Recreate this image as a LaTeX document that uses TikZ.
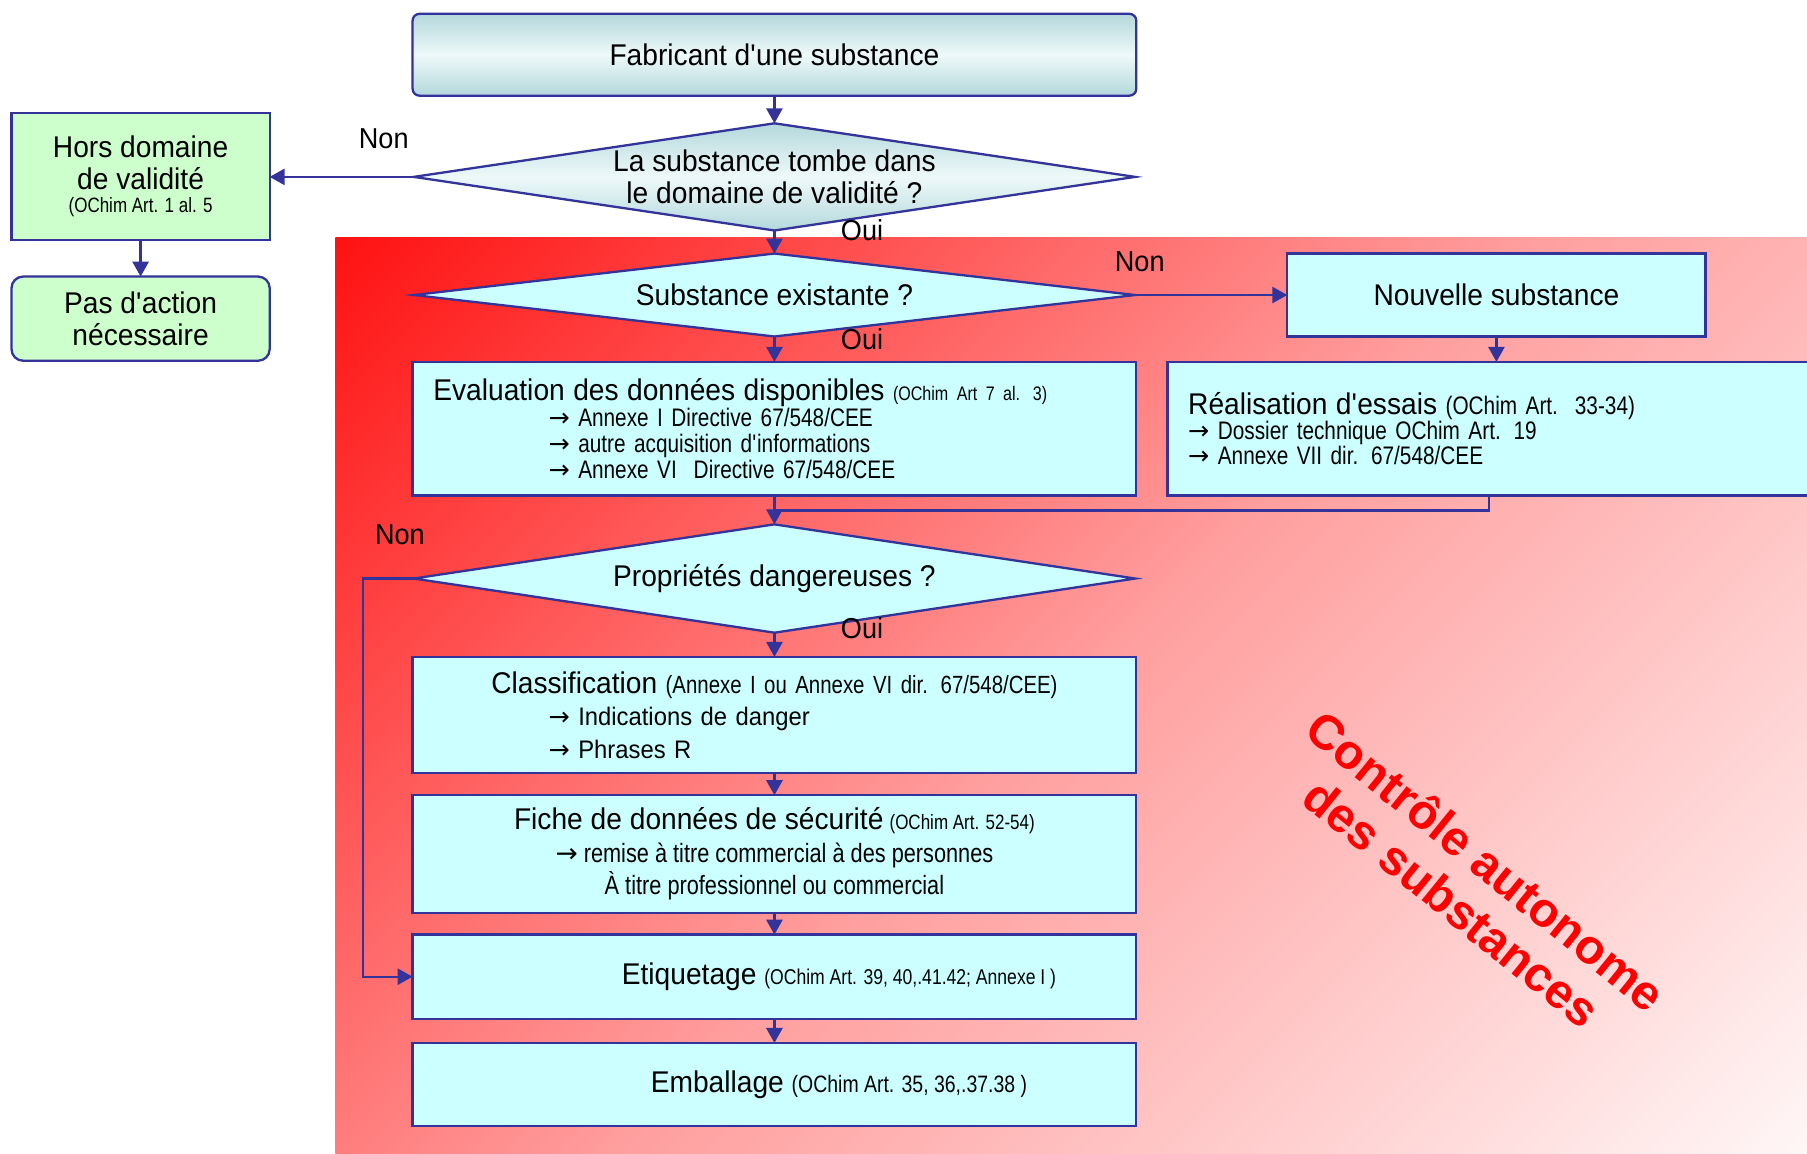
\documentclass[tikz,border=0pt]{standalone}
\usepackage{fontspec}
\setmainfont{Liberation Sans}[FakeStretch=0.94]
\newfontfamily\narrow{Liberation Sans}[FakeStretch=0.82]
\newfontfamily\stampfont{Liberation Sans}
\newfontfamily\arwfont{DejaVu Sans}
\usetikzlibrary{arrows.meta}
\usetikzlibrary{shapes.geometric}

\definecolor{linecol}{RGB}{51,51,153}
\definecolor{boxfill}{RGB}{204,255,255}
\definecolor{greenfill}{RGB}{204,255,204}
\definecolor{tealedge}{RGB}{180,216,220}
\definecolor{tealmid}{RGB}{238,249,249}
\definecolor{bgred}{RGB}{255,18,18}
\definecolor{bgmid}{RGB}{255,158,158}
\definecolor{bgpale}{RGB}{255,246,246}
\pgfdeclareverticalshading{redzone}{100bp}{color(0bp)=(bgpale); color(14.65bp)=(bgpale); color(50bp)=(bgmid); color(85.35bp)=(bgred); color(100bp)=(bgred)}

\newcommand{\sztitle}{\rmfamily\fontsize{13}{13.75}\selectfont}
\newcommand{\szlbl}{\fontsize{12.5}{13}\selectfont}
\newcommand{\arw}{{\arwfont →}}

\begin{document}
\begin{tikzpicture}[x=0.5pt, y=-0.5pt]
\tikzstyle{box}=[draw=linecol, line width=1pt, fill=boxfill, inner sep=0pt, outer sep=0pt, font=\sztitle]
\tikzstyle{dec}=[draw=linecol, line width=1pt, fill=boxfill, diamond, aspect=6.7, inner sep=-6pt, outer sep=0pt, font=\sztitle, align=center]
\tikzstyle{teal}=[top color=tealedge, bottom color=tealedge, middle color=tealmid]
\tikzstyle{lbl}=[inner sep=0pt, font=\szlbl]
\tikzstyle{arr}=[draw=linecol, line width=1pt, -{Triangle[length=6.5pt, width=7pt]}]
\tikzstyle{lnk}=[draw=linecol, line width=1pt]
\useasboundingbox (0,0) rectangle (1568,1001);
% red zone
\path[shading=redzone, shading angle=45] (291,206) rectangle (1568,1001);
\node[font=\stampfont\fontsize{21}{23.5}\selectfont\bfseries, text=red, rotate=-39, align=center] (stamp) at (1275,765) {Contrôle autonome\\des substances};

\node[box, teal, rounded corners=3pt, minimum width=314pt, minimum height=35.5pt] (fab) at (672,47.5) {Fabricant d\textquotesingle une substance};
\node[dec, teal, minimum width=313pt, minimum height=46.5pt] (q1) at (672,153.5) {La substance tombe dans\\le domaine de validité ?};
\node[box, fill=greenfill, minimum width=112pt, minimum height=55pt, align=center] (hors) at (122,153) {Hors domaine\\de validité\\[-3.5pt]{\narrow\fontsize{9}{9}\selectfont (OChim Art. 1 al. 5}};
\node[box, fill=greenfill, rounded corners=5pt, minimum width=112pt, minimum height=36.5pt, align=center] (pas) at (122,276.5) {Pas d\textquotesingle action\\nécessaire};
\node[dec, minimum width=313pt, minimum height=36pt] (q2) at (672,256) {Substance existante ?};
\node[box, minimum width=181.5pt, minimum height=36pt] (nouv) at (1298.5,256) {Nouvelle substance};
\node[box, font=\narrow\fontsize{11}{11.25}\selectfont, minimum width=314pt, minimum height=58pt, text width=296pt, inner xsep=9pt, align=left] (eval) at (672,372) {{\sztitle Evaluation des données disponibles} {\fontsize{8.5}{9}\selectfont (OChim Art 7 al. 3)}\\
\hspace*{50pt}\arw\ Annexe I Directive 67/548/CEE\\
\hspace*{50pt}\arw\ autre acquisition d\textquotesingle informations\\
\hspace*{50pt}\arw\ Annexe VI\ \ Directive 67/548/CEE};
\node[box, font=\narrow\fontsize{11}{11}\selectfont, minimum width=350pt, minimum height=58pt, text width=332pt, inner xsep=9pt, align=left] (real) at (1363,372) {{\sztitle Réalisation d\textquotesingle essais} (OChim Art.\ \ 33-34)\\
\arw\ Dossier technique OChim Art. 19\\
\arw\ Annexe VII dir. 67/548/CEE};
\node[dec, minimum width=313pt, minimum height=47pt] (q3) at (672,502) {Propriétés dangereuses ?};
\node[box, font=\fontsize{11}{14}\selectfont, minimum width=314pt, minimum height=50.5pt, text width=296pt, inner xsep=9pt, align=left] (clas) at (672,620.5) {\makebox[296pt][c]{{\sztitle Classification} {\narrow\fontsize{10.8}{14}\selectfont (Annexe I ou Annexe VI dir. 67/548/CEE)}}\\
\hspace*{50pt}\arw\ Indications de danger\\
\hspace*{50pt}\arw\ Phrases R};
\node[box, font=\narrow\fontsize{11.5}{14}\selectfont, minimum width=314pt, minimum height=51pt, align=center] (fiche) at (672,741) {{\sztitle Fiche de données de sécurité} {\narrow\fontsize{9}{10}\selectfont (OChim Art. 52-54)}\\
\arw\ remise à titre commercial à des personnes\\
À titre professionnel ou commercial};
\node[box, font=\fontsize{13}{14}\selectfont, minimum width=314pt, minimum height=36.5pt] (etiq) at (672,847.5) {\hspace*{56pt}Etiquetage {\narrow\fontsize{9.3}{10}\selectfont (OChim Art. 39, 40,.41.42; Annexe I )}};
\node[box, font=\fontsize{13}{14}\selectfont, minimum width=314pt, minimum height=36pt] (emb) at (672,941) {\hspace*{56pt}Emballage {\narrow\fontsize{10.3}{11}\selectfont (OChim Art. 35, 36,.37.38 )}};

\node[lbl] (non1) at (333,120) {Non};
\node[lbl] (oui1) at (748,200) {Oui};
\node[lbl] (non2) at (989,227) {Non};
\node[lbl] (oui2) at (748,294) {Oui};
\node[lbl] (non3) at (347,464) {Non};
\node[lbl] (oui3) at (748,545) {Oui};

\coordinate (rbot) at (1292,430);
\coordinate (join) at (672,443);
\foreach \i/\j in {fab/q1, q1/q2, q2/eval, eval/q3, q3/clas, clas/fiche, fiche/etiq, etiq/emb, hors/pas}{
\draw[arr] (\i.south) -- (\j.north);}
\draw[arr] (q1.west) -- (q1.west -| hors.east);
\draw[arr] (q2.east) -- (nouv.west);
\draw[arr] (nouv.south) -- (nouv.south |- real.north);
\draw[lnk] (rbot) |- (join);
\draw[arr] (q3.west) -- ++(-44,0) |- (etiq.west);
\end{tikzpicture}
\end{document}
